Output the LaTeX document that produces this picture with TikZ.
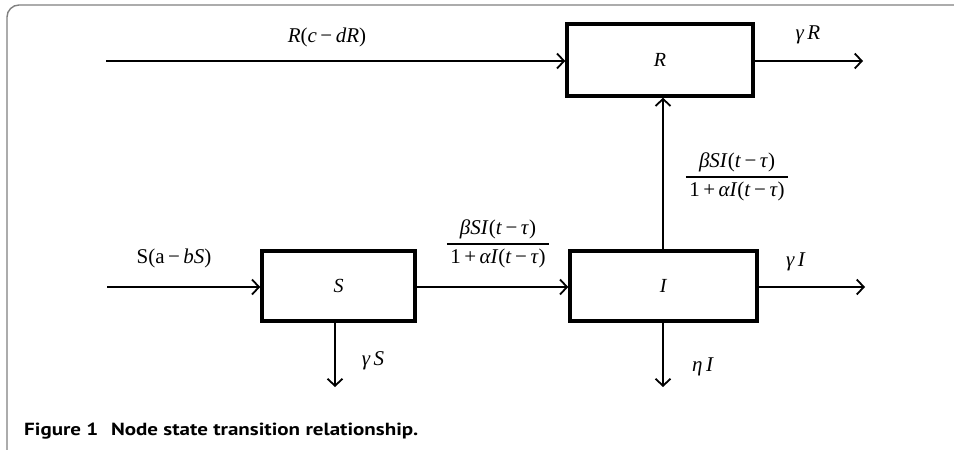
\documentclass[tikz,border=0pt]{standalone}
\usepackage{amsmath}
\usepackage{graphicx}
\usepackage{fontspec}
\setmainfont{Liberation Serif}
\newfontfamily\capfont{PT Sans}
\usetikzlibrary{arrows.meta}
% italic letters in the serif text face
\newcommand\vi[1]{\textit{#1}}
\newcommand\mns{\,\textup{−}\,}
% delayed-infection rate written as a fraction
\newcommand\rateterm{$\genfrac{}{}{1.3pt}{0}{\hbox{\vi{βSI}(\vi{t}\mns\vi{τ})}}{\hbox{\,1\,+\,\vi{αI}(\vi{t}\mns\vi{τ})\,}}$}
\tikzset{
  statebox/.style={draw, line width=3.5pt, minimum width=#1, minimum height=70pt, inner sep=0pt, font=\fontsize{20}{22}\selectfont},
  flow/.style={line width=1.8pt, -{Straight Barb[length=7pt, width=15pt, line width=1.8pt]}},
  lbl/.style={font=\fontsize{21}{23}\selectfont, inner sep=0pt},
  frameline/.style={draw=black!50, line width=1.4pt, rounded corners=12pt}
}
\begin{document}
\begin{tikzpicture}[x=1pt, y=-1pt]
\useasboundingbox (0,0) rectangle (954,450);
% open frame: top and left edges with a rounded corner
\draw[frameline] (954,5) -- (7,5) -- (7,450);

% compartments
\node[statebox=186pt, minimum height=72pt] (R) at (660,60) {\vi{R}};
\node[statebox=153pt] (S) at (338.5,286) {\vi{S}};
\node[statebox=187pt] (I) at (663.5,286) {\vi{I}};

% free ends of the flows
\coordinate (rin) at (106,61);
\coordinate (rout) at (863,61);
\coordinate (sin) at (107,287);
\coordinate (iout) at (865,287);
\coordinate (sdown) at (335,387);
\coordinate (idown) at (663,387);

% flows
\draw[flow] (rin) -- (rin -| R.west);
\draw[flow] (rout -| R.east) -- (rout);
\draw[flow] (sin) -- (sin -| S.west);
\draw[flow] (sin -| S.east) -- (sin -| I.west);
\draw[flow] (iout -| I.east) -- (iout);
\draw[flow] (I.north -| idown) -- (R.south -| idown);
\draw[flow] (S.south -| sdown) -- (sdown);
\draw[flow] (I.south -| idown) -- (idown);

% rate labels
\node[lbl] (lrin) at (327,37) {\vi{R}(\vi{c}\mns\vi{dR})};
\node[lbl] (lrout) at (808,35) {\vi{γ\,R}};
\node[lbl] (lsin) at (174,258) {S(a\mns\vi{bS})};
\node[lbl] (liout) at (796,262) {\vi{γ\,I}};
\node[lbl] (lsdown) at (373,361) {\vi{γ\,S}};
\node[lbl] (lidown) at (703,367) {\vi{η\,I}};
\node[lbl] (lsi) at (498,244) {\rateterm};
\node[lbl] (lir) at (737,177) {\rateterm};

% caption
\node[anchor=base west, inner sep=0pt] (cap) at (24,435)
  {\resizebox{394pt}{12.5pt}{\capfont\bfseries Figure 1\hspace{0.6em}Node state transition relationship.}};
\end{tikzpicture}
\end{document}
